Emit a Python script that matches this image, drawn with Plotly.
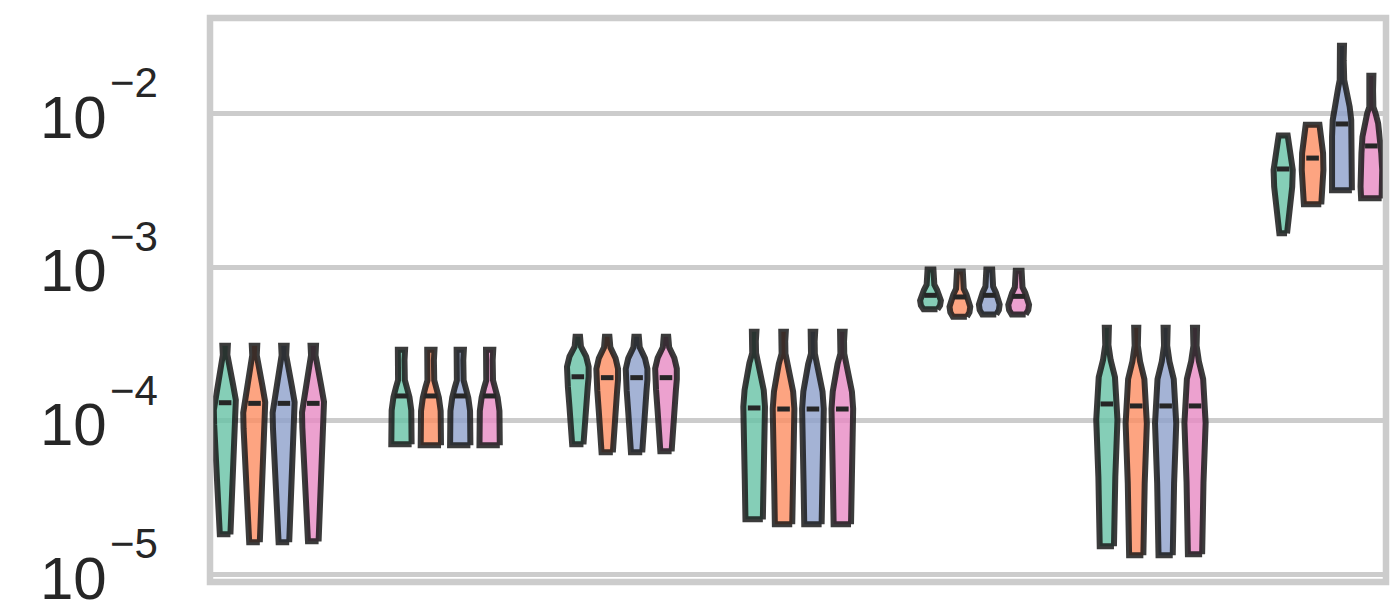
import numpy as np
import plotly.graph_objects as go

# ---------------- data ----------------
groups = ["G1", "G2", "G3", "G4", "G5", "G6", "G7"]
hues = ["h1", "h2", "h3", "h4"]
hue_colors = ["#66c2a5", "#fc8d62", "#8da0cb", "#e78ac3"]

# per-hue maximum of each violin (one value per group)
top_h1 = [3.083e-4, 2.904e-4, 3.532e-4, 3.802e-4, 9.64e-4, 4.036e-4, 7.18e-3]
top_h2 = [3.083e-4, 2.904e-4, 3.532e-4, 3.802e-4, 9.38e-4, 4.036e-4, 8.45e-3]
top_h3 = [3.083e-4, 2.904e-4, 3.532e-4, 3.802e-4, 9.64e-4, 4.036e-4, 2.761e-2]
top_h4 = [3.083e-4, 2.904e-4, 3.532e-4, 3.802e-4, 9.48e-4, 4.036e-4, 1.762e-2]

# per-hue minimum of each violin
bottom_h1 = [1.828e-5, 7.03e-5, 7.03e-5, 2.286e-5, 5.32e-4, 1.528e-5, 1.660e-3]
bottom_h2 = [1.622e-5, 6.93e-5, 6.24e-5, 2.123e-5, 4.76e-4, 1.334e-5, 2.564e-3]
bottom_h3 = [1.622e-5, 6.93e-5, 6.24e-5, 2.123e-5, 4.93e-4, 1.334e-5, 3.162e-3]
bottom_h4 = [1.644e-5, 6.93e-5, 6.34e-5, 2.123e-5, 4.93e-4, 1.355e-5, 2.805e-3]

# per-hue median of each violin
median_h1 = [1.312e-4, 1.452e-4, 1.936e-4, 1.213e-4, 6.56e-4, 1.288e-4, 4.355e-3]
median_h2 = [1.300e-4, 1.452e-4, 1.910e-4, 1.194e-4, 6.40e-4, 1.250e-4, 5.129e-3]
median_h3 = [1.300e-4, 1.452e-4, 1.910e-4, 1.194e-4, 6.56e-4, 1.250e-4, 8.55e-3]
median_h4 = [1.300e-4, 1.452e-4, 1.910e-4, 1.194e-4, 6.46e-4, 1.250e-4, 6.15e-3]

# density profiles: (position between min (0) and max (1) in log space, relative width)
profile_g1 = [(0, 0.47), (0.039, 0.5), (0.182, 0.64), (0.315, 0.75), (0.447, 0.85),
              (0.58, 0.97), (0.659, 1.0), (0.712, 0.95), (0.792, 0.71), (0.871, 0.43),
              (0.951, 0.2), (1.0, 0.24)]
profile_g2 = [(0, 0.9), (0.15, 0.9), (0.36, 0.87), (0.5, 0.71), (0.606, 0.48),
              (0.68, 0.3), (0.89, 0.27), (1.0, 0.32)]
profile_g3 = [(0, 0.5), (0.164, 0.58), (0.349, 0.74), (0.535, 0.88), (0.628, 0.96),
              (0.721, 0.96), (0.814, 0.74), (0.907, 0.28), (1.0, 0.2)]
profile_g4 = [(0, 0.77), (0.21, 0.83), (0.387, 0.9), (0.529, 0.96), (0.6, 0.96),
              (0.689, 0.85), (0.76, 0.64), (0.833, 0.42), (0.886, 0.17), (0.95, 0.15),
              (1.0, 0.2)]
profile_g5 = [(0, 0.62), (0.1, 0.85), (0.22, 0.92), (0.35, 0.82), (0.49, 0.58),
              (0.62, 0.34), (0.8, 0.24), (1.0, 0.26)]
profile_g6 = [(0, 0.63), (0.088, 0.63), (0.317, 0.75), (0.579, 0.94), (0.701, 0.83),
              (0.774, 0.72), (0.852, 0.34), (0.921, 0.14), (1.0, 0.18)]
profile_g7_h1 = [(0, 0.34), (0.136, 0.49), (0.307, 0.66), (0.477, 0.8), (0.649, 0.85),
                 (0.82, 0.69), (1.0, 0.4)]
profile_g7_h2 = [(0, 0.77), (0.221, 0.88), (0.431, 0.96), (0.641, 0.93), (0.849, 0.77),
                 (1.0, 0.61)]
profile_g7_h3 = [(0, 0.88), (0.14, 0.9), (0.371, 0.88), (0.486, 0.82), (0.578, 0.68),
                 (0.647, 0.5), (0.716, 0.32), (0.763, 0.2), (0.9, 0.15), (1.0, 0.18)]
profile_g7_h4 = [(0, 0.91), (0.095, 0.96), (0.231, 0.96), (0.367, 0.88), (0.502, 0.79),
                 (0.612, 0.6), (0.693, 0.37), (0.745, 0.18), (0.88, 0.15), (1.0, 0.18)]

tick_exponents = [-5, -4, -3, -2]

# ---------------- figure ----------------
tops = [top_h1, top_h2, top_h3, top_h4]
bottoms = [bottom_h1, bottom_h2, bottom_h3, bottom_h4]
medians = [median_h1, median_h2, median_h3, median_h4]
group_profiles = [profile_g1, profile_g2, profile_g3, profile_g4, profile_g5, profile_g6, None]
last_profiles = [profile_g7_h1, profile_g7_h2, profile_g7_h3, profile_g7_h4]

dodge = [-0.25, -1 / 12, 1 / 12, 0.25]
half_width = 0.064  # half of the widest violin, in category units


def rgba(hex_color, a):
    h = hex_color.lstrip("#")
    r, g, b = int(h[0:2], 16), int(h[2:4], 16), int(h[4:6], 16)
    return f"rgba({r},{g},{b},{a})"


fig = go.Figure()

for gi, _g in enumerate(groups):
    for hi, _h in enumerate(hues):
        prof = group_profiles[gi] if group_profiles[gi] is not None else last_profiles[hi]
        fr = np.array([p[0] for p in prof])
        wd = np.array([p[1] for p in prof])
        lo = np.log10(bottoms[hi][gi])
        up = np.log10(tops[hi][gi])
        yv = 10 ** (lo + fr * (up - lo))
        xc = gi + dodge[hi]
        xs = np.concatenate([xc + half_width * wd, (xc - half_width * wd)[::-1], [xc + half_width * wd[0]]])
        ys = np.concatenate([yv, yv[::-1], [yv[0]]])
        fig.add_trace(go.Scatter(
            x=xs, y=ys, mode="lines", fill="toself",
            fillcolor=rgba(hue_colors[hi], 0.8),
            line=dict(color="rgba(25,25,25,0.85)", width=6),
            hoverinfo="skip", showlegend=False,
        ))

for hi, _h in enumerate(hues):
    fig.add_trace(go.Scatter(
        x=[gi + dodge[hi] for gi in range(len(groups))],
        y=medians[hi],
        mode="markers",
        marker=dict(symbol="line-ew", size=9, line=dict(width=5, color="#262626")),
        hoverinfo="skip", showlegend=False,
    ))

label_font = "Liberation Sans, Arial, sans-serif"
for e in tick_exponents:
    fig.add_annotation(x=0, xref="paper", y=e, yref="y", text="10", showarrow=False,
                       xanchor="right", yanchor="middle", xshift=-103.5, yshift=-3.7,
                       borderpad=0, borderwidth=0,
                       font=dict(size=60, family=label_font, color="#262626"))
    fig.add_annotation(x=0, xref="paper", y=e, yref="y", text=f"\u2212{-e}", showarrow=False,
                       xanchor="left", yanchor="middle", xshift=-100.2, yshift=30.8,
                       borderpad=0, borderwidth=0,
                       font=dict(size=42, family=label_font, color="#262626"))

fig.add_shape(type="rect", xref="paper", yref="paper", x0=0, x1=1, y0=0, y1=1,
              line=dict(color="#cccccc", width=6.5), layer="above")

fig.update_layout(
    width=1400, height=600,
    margin=dict(l=210, r=14, t=18, b=18),
    paper_bgcolor="white", plot_bgcolor="white",
    showlegend=False,
    xaxis=dict(range=[-0.3357, 6.333], showgrid=False, zeroline=False,
               showticklabels=False, ticks="", showline=False),
    yaxis=dict(type="log", range=[-5.0487, -1.3785],
               tickvals=[10.0 ** e for e in tick_exponents],
               showticklabels=False, ticks="", showgrid=True,
               gridcolor="#cccccc", gridwidth=5, zeroline=False, showline=False),
)

fig.write_html("out.html")
